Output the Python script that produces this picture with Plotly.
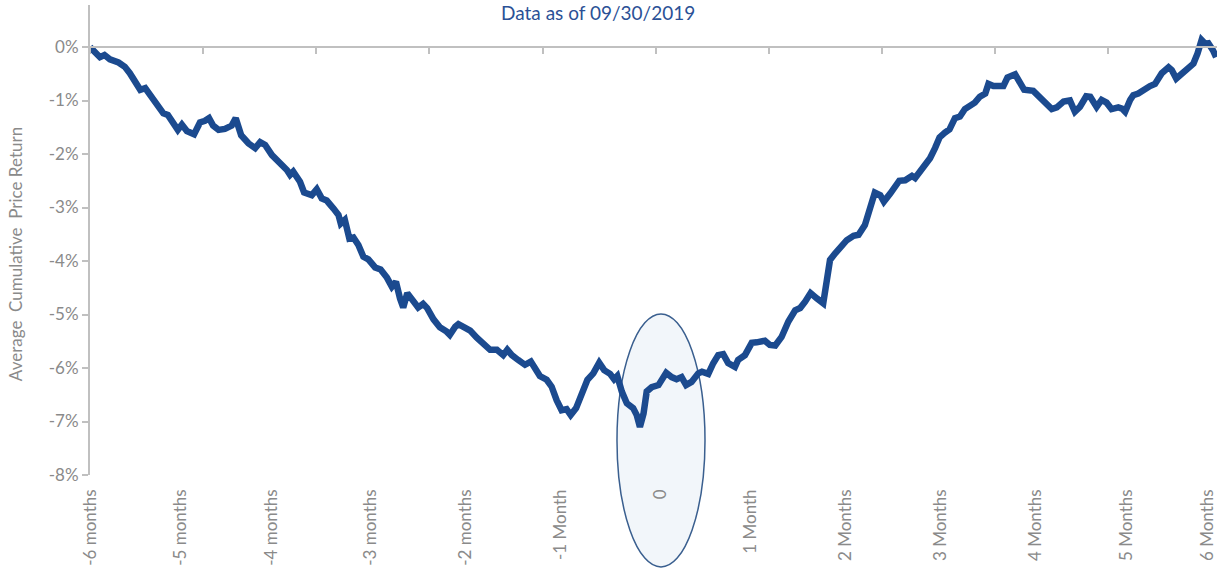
import plotly.graph_objects as go

# Trading-day index (0 = six months before event) and average cumulative price return (%)
days = [0.0, 1.5, 2.2, 3.2, 4.4, 6.3, 7.7, 8.8, 9.9, 11.1, 12.2, 13.6, 15.1, 16.2, 17.2, 18.2,
        19.4, 20.3, 21.4, 23.0, 24.3, 25.4, 26.3, 27.2, 28.4, 29.8, 31.3, 32.2, 33.4, 35.0,
        36.5, 37.6, 38.7, 40.2, 41.3, 42.4, 43.5, 44.2, 44.9, 46.4, 47.3, 49.0, 50.1, 51.2,
        52.3, 53.8, 54.9, 55.4, 56.3, 57.3, 58.2, 59.3, 60.4, 61.5, 63.0, 64.2, 65.6, 66.7,
        67.6, 68.5, 69.2, 70.1, 71.4, 72.5, 73.6, 74.5, 75.9, 77.3, 78.8, 79.5, 80.7, 81.4,
        82.5, 84.0, 85.4, 86.9, 88.4, 89.9, 91.3, 92.2, 93.2, 94.6, 96.1, 97.4, 98.3, 99.4,
        100.9, 102.0, 103.1, 104.2, 105.3, 106.2, 107.4, 108.6, 109.9, 111.2, 112.5, 113.6,
        114.9, 115.8, 116.5, 117.5, 118.6, 120.0, 120.8, 121.5, 122.3, 123.0, 124.1, 125.6,
        126.3, 127.3, 128.5, 129.6, 130.7, 131.7, 132.9, 134.4, 135.2, 136.6, 137.7, 138.8,
        139.9, 141.0, 142.5, 143.2, 144.7, 146.2, 147.3, 149.1, 150.2, 151.4, 152.8, 154.3,
        155.8, 156.9, 158.0, 159.2, 160.6, 162.0, 162.8, 163.5, 164.6, 166.1, 167.2, 168.7,
        169.8, 171.2, 172.3, 173.4, 174.6, 175.4, 176.8, 178.8, 180.1, 181.6, 182.3, 183.8,
        185.6, 186.7, 187.7, 188.9, 189.9, 191.1, 192.2, 193.3, 195.5, 196.6, 197.8, 198.5,
        199.6, 201.8, 202.7, 204.4, 205.5, 206.4, 208.4, 210.6, 212.5, 213.6, 215.1, 216.5,
        217.6, 218.7, 220.1, 221.0, 221.8, 222.4, 223.5, 224.6, 225.7, 227.2, 228.0, 228.7,
        229.8, 230.5, 231.6, 233.1, 234.2, 235.3, 236.8, 238.3, 239.0, 240.0, 241.2, 242.7,
        243.8, 244.7, 245.6, 246.4, 247.1, 248.1, 248.8]

returns = [0.00, -0.16, -0.19, -0.15, -0.23, -0.29, -0.37, -0.49, -0.66, -0.80, -0.77, -0.93,
           -1.08, -1.24, -1.27, -1.38, -1.55, -1.45, -1.57, -1.63, -1.41, -1.38, -1.33, -1.47,
           -1.55, -1.53, -1.47, -1.33, -1.65, -1.80, -1.89, -1.78, -1.83, -2.02, -2.11, -2.17,
           -2.30, -2.39, -2.33, -2.52, -2.72, -2.77, -2.66, -2.83, -2.87, -3.02, -3.14, -3.30,
           -3.23, -3.58, -3.56, -3.70, -3.92, -3.97, -4.12, -4.16, -4.31, -4.48, -4.39, -4.70,
           -4.87, -4.60, -4.74, -4.87, -4.80, -4.88, -5.09, -5.24, -5.32, -5.38, -5.23, -5.18,
           -5.23, -5.30, -5.43, -5.55, -5.66, -5.66, -5.76, -5.66, -5.76, -5.85, -5.94, -5.88,
           -6.01, -6.15, -6.22, -6.35, -6.60, -6.79, -6.77, -6.88, -6.75, -6.47, -6.22, -6.10,
           -5.90, -6.04, -6.11, -6.21, -6.15, -6.44, -6.66, -6.75, -6.88, -7.10, -6.85, -6.44,
           -6.36, -6.32, -6.22, -6.09, -6.17, -6.21, -6.17, -6.32, -6.26, -6.10, -6.07, -6.11,
           -5.91, -5.76, -5.74, -5.91, -5.98, -5.85, -5.76, -5.53, -5.52, -5.49, -5.57, -5.58,
           -5.42, -5.13, -4.92, -4.88, -4.76, -4.60, -4.70, -4.79, -4.36, -3.98, -3.86, -3.73,
           -3.61, -3.53, -3.51, -3.33, -3.05, -2.72, -2.77, -2.89, -2.74, -2.50, -2.49, -2.41,
           -2.45, -2.27, -2.08, -1.89, -1.69, -1.60, -1.54, -1.33, -1.30, -1.16, -1.04, -0.93,
           -0.87, -0.69, -0.73, -0.73, -0.57, -0.51, -0.68, -0.80, -0.82, -0.99, -1.16, -1.13,
           -1.02, -1.00, -1.21, -1.12, -0.92, -0.93, -1.08, -1.12, -0.99, -1.04, -1.16, -1.13,
           -1.15, -1.21, -0.99, -0.90, -0.87, -0.77, -0.73, -0.69, -0.49, -0.38, -0.43, -0.59,
           -0.51, -0.38, -0.31, -0.12, 0.13, 0.06, 0.07, -0.06, -0.19]

# Category labels and the trading-day index where each label sits
label_days = [0, 20, 40, 62, 83, 104, 126, 146, 167, 188, 209, 229, 247]
label_text = ["-6 months", "-5 months", "-4 months", "-3 months", "-2 months", "-1 Month", "0",
              "1 Month", "2 Months", "3 Months", "4 Months", "5 Months", "6 Months"]
y_ticks = [-8, -7, -6, -5, -4, -3, -2, -1, 0]

X_RANGE = [0, 249]
Y_RANGE = [-8, 0.785]
FONT = "Lato, 'Open Sans', sans-serif"
GRAY = "#8a8a8a"
AXIS_GRAY = "#c0c0c0"
BLUE = "#1b4a8f"

fig = go.Figure()
fig.add_trace(go.Scatter(x=days, y=returns, mode="lines",
                         line=dict(color=BLUE, width=6.5, shape="linear"),
                         hoverinfo="x+y", showlegend=False, cliponaxis=False))
# invisible trace to activate the zero-line axis with tick marks
fig.add_trace(go.Scatter(x=[X_RANGE[0]], y=[0], xaxis="x2", mode="markers",
                         marker=dict(opacity=0), hoverinfo="skip", showlegend=False))

zero_pos = (0 - Y_RANGE[0]) / (Y_RANGE[1] - Y_RANGE[0])

fig.update_layout(
    width=1219, height=573,
    margin=dict(l=90, r=2, t=5, b=98),
    paper_bgcolor="white", plot_bgcolor="rgba(0,0,0,0)",
    font=dict(family=FONT, color=GRAY, size=17),
    xaxis=dict(range=X_RANGE, tickmode="array", tickvals=label_days, ticktext=label_text,
               tickangle=-90, ticks="", showline=False, showgrid=False, zeroline=False,
               automargin=False, ticklabeloverflow="allow", ticklabelstandoff=10,
               tickfont=dict(family=FONT, size=17, color=GRAY)),
    xaxis2=dict(range=X_RANGE, overlaying="x", anchor="free", position=zero_pos, side="bottom",
                showline=True, linecolor=AXIS_GRAY, linewidth=2, ticks="outside", ticklen=6,
                tickwidth=2, tickcolor=AXIS_GRAY, tick0=0, dtick=25, showticklabels=False,
                showgrid=False, zeroline=False),
    yaxis=dict(range=Y_RANGE, tickmode="array", tickvals=y_ticks,
               ticktext=[f"{v}%" for v in y_ticks], ticks="outside", ticklen=6, tickwidth=2,
               tickcolor=AXIS_GRAY, showline=True, linecolor=AXIS_GRAY, linewidth=2,
               showgrid=False, zeroline=False, automargin=False,
               tickfont=dict(family=FONT, size=17, color=GRAY)),
    shapes=[dict(type="circle", xref="paper", yref="paper", x0=0.4676, x1=0.5457,
                 y0=-0.1957, y1=0.3426, fillcolor="#f2f6fa",
                 line=dict(color="#3a5f8f", width=1.5), layer="below")],
    annotations=[
        dict(text="Data as of 09/30/2019", xref="paper", yref="paper", x=0.4505, y=0.983,
             xanchor="center", yanchor="middle", showarrow=False,
             font=dict(family=FONT, size=19, color="#2b5196")),
        dict(text="Average\u00a0 Cumulative\u00a0 Price Return", xref="paper", yref="paper",
             x=-0.0665, y=0.470, xanchor="center", yanchor="middle", textangle=-90,
             showarrow=False, font=dict(family=FONT, size=17, color=GRAY)),
    ],
)

fig.write_html("out.html", config={"displayModeBar": False},
               post_script="document.body.style.margin='0';document.body.style.overflow='hidden';")
